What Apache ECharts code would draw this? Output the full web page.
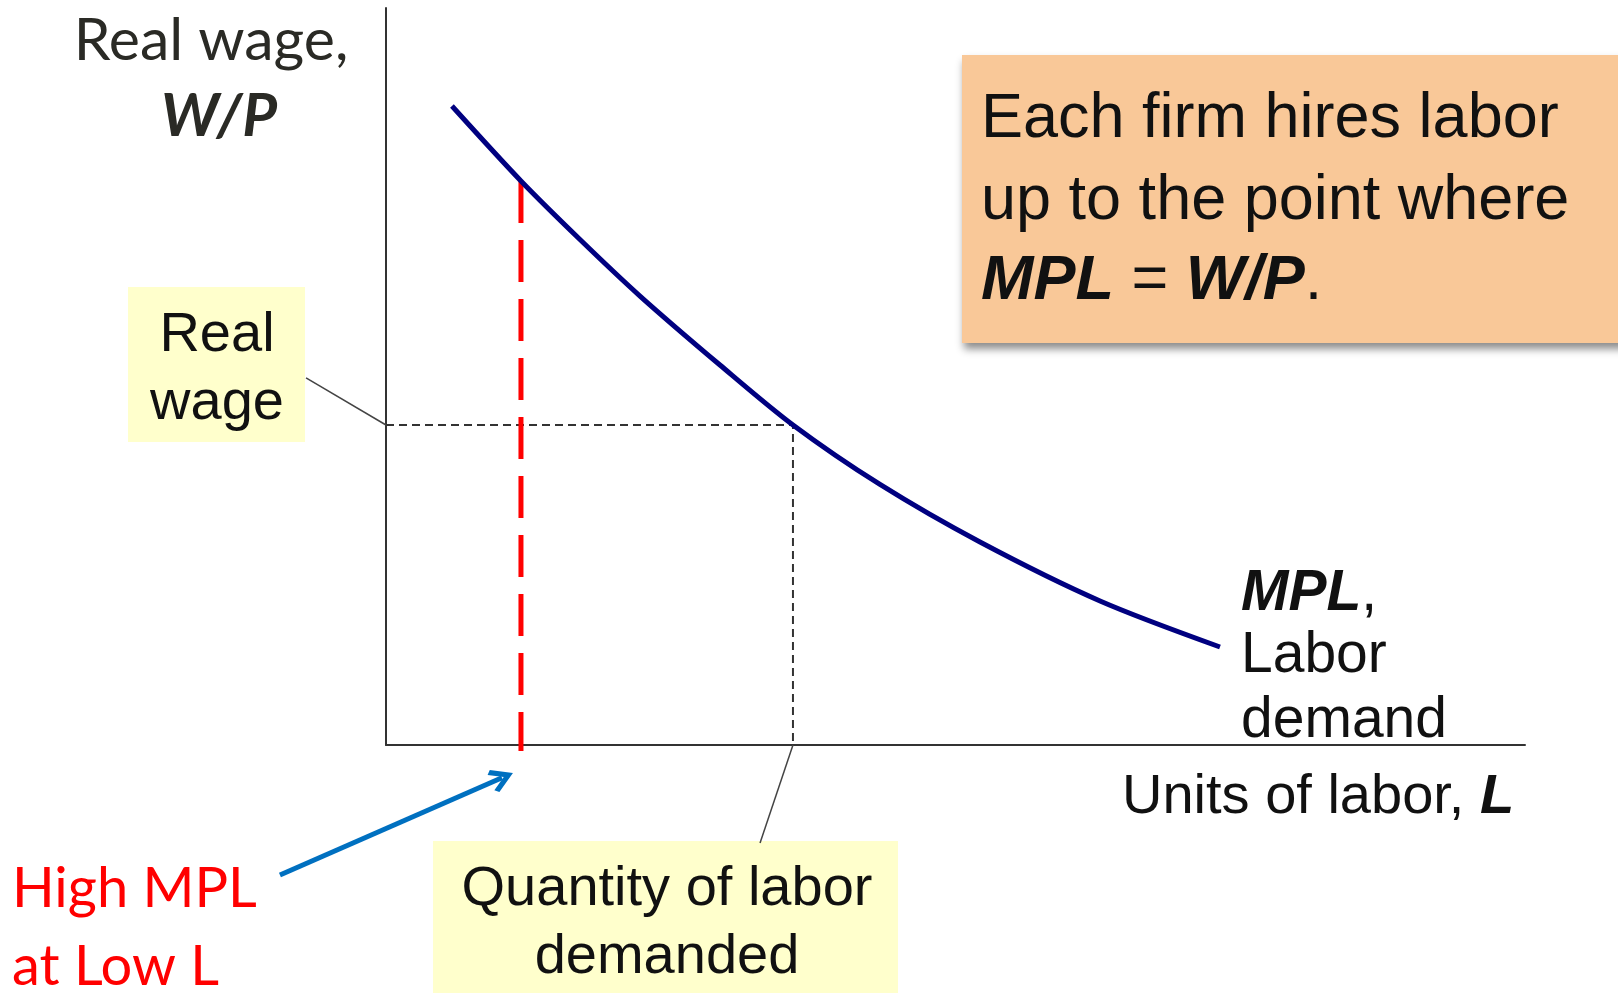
<!DOCTYPE html>
<html>
<head>
<meta charset="utf-8">
<script src="https://cdn.jsdelivr.net/npm/echarts@6/dist/echarts.min.js"></script>
<style>
  html, body { margin: 0; padding: 0; background: #fff; }
  #chart { width: 1618px; height: 993px; }
</style>
</head>
<body>
<div id="chart"></div>
<script>
  // labor demand (MPL) curve: x = units of labor, y = real wage
  var mplX = [5.79, 11.85, 17.03, 22.30, 29.32, 35.73, 43.37, 52.15, 62.69, 73.22];
  var mplY = [86.70, 76.53, 68.59, 60.92, 51.56, 43.42, 35.35, 27.54, 19.54, 13.30];
  // equilibrium point: MPL = W/P
  var realWage = 43.42;
  var laborDemanded = 35.73;
  // low L, where the MPL is high
  var lowL = 11.85;
  var lowLMpl = 76.53;
  var lowLBottom = -0.8;
  // annotation leader / arrow ends (data units)
  var wageLeader = [[-7.02, 49.8], [0, realWage]];
  var qtyLeader = [[laborDemanded, 0], [32.84, -13.3]];
  var arrowLine = [[-9.31, -17.64], [10.18, -4.45]];

  var chart = echarts.init(document.getElementById('chart'));

  var ARIAL = '"Liberation Sans", Arial, sans-serif';
  var CALIBRI = 'Lato, "Open Sans", sans-serif';
  var CHEVRON = 'path://M5,0 L10,7.6 L8.5,9.1 L5,3.8 L1.5,9.1 L0,7.6 Z';

  function boldItalic(size) {
    return { fontFamily: ARIAL, fontSize: size, fontWeight: 'bold', fontStyle: 'italic', fill: '#111' };
  }

  var option = {
    animation: false,
    grid: { left: 386, top: 8, right: 93, bottom: 248 },
    xAxis: {
      type: 'value', min: 0, max: 100,
      axisLine: { show: true, lineStyle: { color: '#333', width: 2 } },
      axisTick: { show: false }, axisLabel: { show: false }, splitLine: { show: false }
    },
    yAxis: {
      type: 'value', min: 0, max: 100,
      axisLine: { show: true, lineStyle: { color: '#333', width: 2 } },
      axisTick: { show: false }, axisLabel: { show: false }, splitLine: { show: false }
    },
    series: [
      {
        // dotted guides to the equilibrium point
        type: 'line', clip: false, symbol: 'none',
        data: [[0, realWage], [laborDemanded, realWage], [laborDemanded, 0]],
        lineStyle: { color: '#333', width: 2, type: [8, 5] }
      },
      {
        // red dashed line at low L
        type: 'line', clip: false, symbol: 'none',
        data: [[lowL, lowLMpl], [lowL, lowLBottom]],
        lineStyle: { color: '#ff0000', width: 5, type: [42, 17] }
      },
      {
        // MPL / labor demand
        type: 'line', clip: false, symbol: 'none', smooth: 0.3,
        data: mplX.map(function (x, i) { return [x, mplY[i]]; }),
        lineStyle: { color: '#000080', width: 5 }
      },
      {
        // leader lines from the yellow labels
        type: 'lines', coordinateSystem: 'cartesian2d', clip: false, silent: true,
        symbol: 'none',
        lineStyle: { color: '#444', width: 1.5, opacity: 1 },
        data: [{ coords: wageLeader }, { coords: qtyLeader }]
      },
      {
        // blue arrow pointing at low L
        type: 'lines', coordinateSystem: 'cartesian2d', clip: false, silent: true,
        symbol: ['none', CHEVRON], symbolSize: [30, 24],
        lineStyle: { color: '#0070c0', width: 5, opacity: 1 },
        itemStyle: { color: '#0070c0' },
        data: [{ coords: arrowLine }]
      }
    ],
    graphic: [
      // y axis title
      { type: 'text', x: 211, y: 41,
        style: { text: 'Real wage,', font: '59px ' + CALIBRI, fill: '#2a2a25', align: 'center', verticalAlign: 'middle' } },
      { type: 'text', x: 219, y: 117,
        style: { text: 'W/P', font: 'italic bold 60px ' + CALIBRI, fill: '#2a2a25', align: 'center', verticalAlign: 'middle' } },

      // "Real wage" box
      { type: 'rect', shape: { x: 128, y: 287, width: 177, height: 155 }, style: { fill: '#ffffcc' } },
      { type: 'text', x: 217, y: 336,
        style: { text: 'Real', font: '56px ' + ARIAL, fill: '#111', align: 'center', verticalAlign: 'middle' } },
      { type: 'text', x: 217, y: 404,
        style: { text: 'wage', font: '56px ' + ARIAL, fill: '#111', align: 'center', verticalAlign: 'middle' } },

      // orange note box
      { type: 'rect', shape: { x: 962, y: 55, width: 680, height: 288 },
        style: { fill: '#f9c898', shadowBlur: 8, shadowOffsetX: 2, shadowOffsetY: 6, shadowColor: 'rgba(0,0,0,0.45)' } },
      { type: 'text', x: 981, y: 120,
        style: { text: 'Each firm hires labor', font: '63px ' + ARIAL, fill: '#111', align: 'left', verticalAlign: 'middle' } },
      { type: 'text', x: 981, y: 202,
        style: { text: 'up to the point where', font: '63px ' + ARIAL, fill: '#111', align: 'left', verticalAlign: 'middle' } },
      { type: 'text', x: 981, y: 282,
        style: {
          text: '{b|MPL} = {b|W/P}.', font: '63px ' + ARIAL, fill: '#111', align: 'left', verticalAlign: 'middle',
          rich: { b: boldItalic(63) }
        } },

      // curve label
      { type: 'text', x: 1241, y: 594,
        style: {
          text: '{b|MPL},', font: '57px ' + ARIAL, fill: '#111', align: 'left', verticalAlign: 'middle',
          rich: { b: boldItalic(57) }
        } },
      { type: 'text', x: 1241, y: 656,
        style: { text: 'Labor', font: '57px ' + ARIAL, fill: '#111', align: 'left', verticalAlign: 'middle' } },
      { type: 'text', x: 1241, y: 721,
        style: { text: 'demand', font: '57px ' + ARIAL, fill: '#111', align: 'left', verticalAlign: 'middle' } },

      // x axis title
      { type: 'text', x: 1122, y: 798,
        style: {
          text: 'Units of labor, {b|L}', font: '56px ' + ARIAL, fill: '#111', align: 'left', verticalAlign: 'middle',
          rich: { b: boldItalic(56) }
        } },

      // quantity box
      { type: 'rect', shape: { x: 433, y: 841, width: 465, height: 160 }, style: { fill: '#ffffcc' } },
      { type: 'text', x: 667, y: 890,
        style: { text: 'Quantity of labor', font: '56px ' + ARIAL, fill: '#111', align: 'center', verticalAlign: 'middle' } },
      { type: 'text', x: 667, y: 958,
        style: { text: 'demanded', font: '56px ' + ARIAL, fill: '#111', align: 'center', verticalAlign: 'middle' } },

      // red note
      { type: 'text', x: 12, y: 889,
        style: { text: 'High MPL', font: '56px ' + CALIBRI, fill: '#ff0000', align: 'left', verticalAlign: 'middle' } },
      { type: 'text', x: 12, y: 967,
        style: { text: 'at Low L', font: '56px ' + CALIBRI, fill: '#ff0000', align: 'left', verticalAlign: 'middle' } }
    ]
  };

  chart.setOption(option);
</script>
</body>
</html>
